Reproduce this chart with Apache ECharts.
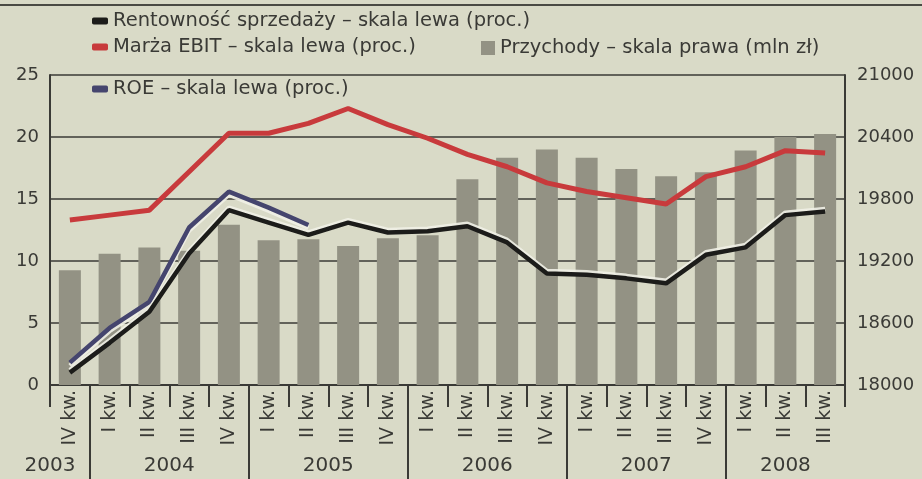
<!DOCTYPE html>
<html>
<head>
<meta charset="utf-8">
<script src="https://cdn.jsdelivr.net/npm/echarts@6/dist/echarts.min.js"></script>
<style>
html,body{margin:0;padding:0;background:#d9dac7;}
#c{width:922px;height:479px;}
</style>
</head>
<body>
<div id="c"></div>
<script>
const quarters = ['IV kw.','I kw.','II kw.','III kw.','IV kw.','I kw.','II kw.','III kw.','IV kw.','I kw.','II kw.','III kw.','IV kw.','I kw.','II kw.','III kw.','IV kw.','I kw.','II kw.','III kw.'];
const years = ['2003','2004','2005','2006','2007','2008'];
const yearLabelPos = [0, 6, 14, 22, 30, 37];
const yearBoundaryPos = [2, 10, 18, 26, 34];
const przychody = [19110, 19270, 19330, 19300, 19550, 19400, 19410, 19345, 19420, 19450, 19990, 20200, 20280, 20200, 20090, 20020, 20060, 20270, 20400, 20430];
const marzaEBIT = [13.3, 13.7, 14.1, 17.2, 20.3, 20.3, 21.1, 22.3, 21.0, 19.9, 18.6, 17.6, 16.3, 15.6, 15.1, 14.6, 16.8, 17.6, 18.9, 18.7];
const rentownosc = [1.0, 3.4, 5.9, 10.6, 14.1, 13.1, 12.1, 13.1, 12.3, 12.4, 12.8, 11.5, 9.0, 8.9, 8.6, 8.2, 10.5, 11.1, 13.7, 14.0];
const roe = [1.8, 4.6, 6.7, 12.7, 15.6, 14.3, 12.9, null, null, null, null, null, null, null, null, null, null, null, null, null];
const leftTicks = {min: 0, max: 25, interval: 5};
const rightTicks = {min: 18000, max: 21000, interval: 600};

const yearAxisData = [];
for (let i = 0; i <= 40; i++) {
  const k = yearLabelPos.indexOf(i);
  yearAxisData.push(k >= 0 ? years[k] : '');
}

const FONT = '"DejaVu Sans", sans-serif';
const TXT = '#3a3a36';
const LEG = {fontFamily: FONT, fontSize: 19.5, color: TXT};

const chart = echarts.init(document.getElementById('c'));
chart.setOption({
  backgroundColor: '#d9dac7',
  animation: false,
  textStyle: {fontFamily: FONT, color: TXT},
  graphic: [{
    type: 'line', shape: {x1: 0, y1: 5, x2: 922, y2: 5},
    style: {stroke: '#4a4a44', lineWidth: 2}
  }],
  grid: {left: 50, right: 77, top: 75, bottom: 94, containLabel: false},
  legend: [
    {left: 92, top: 11, padding: 0, itemWidth: 16, itemHeight: 7, icon: 'roundRect', itemGap: 4,
     data: ['Rentowność sprzedaży – skala lewa (proc.)'], textStyle: LEG},
    {left: 92, top: 37, padding: 0, itemWidth: 16, itemHeight: 7, icon: 'roundRect',
     data: ['Marża EBIT – skala lewa (proc.)'], textStyle: LEG},
    {left: 481, top: 38, padding: 0, itemWidth: 14, itemHeight: 14, icon: 'rect',
     data: ['Przychody – skala prawa (mln zł)'], textStyle: LEG},
    {left: 92, top: 79, padding: 0, itemWidth: 16, itemHeight: 7, icon: 'roundRect',
     data: ['ROE – skala lewa (proc.)'], textStyle: LEG}
  ],
  xAxis: [
    {
      type: 'category', data: quarters, position: 'bottom', boundaryGap: true,
      axisLine: {show: true, lineStyle: {color: '#3a3a36', width: 2}},
      axisTick: {show: true, interval: 0, length: 22, lineStyle: {color: '#3a3a36', width: 2}},
      axisLabel: {interval: 0, rotate: 90, margin: 5, fontSize: 19, color: TXT, fontFamily: FONT}
    },
    {
      type: 'category', data: yearAxisData, position: 'bottom', boundaryGap: false,
      axisLine: {show: false},
      axisTick: {show: true, length: 94, lineStyle: {color: '#3a3a36', width: 2},
        interval: function (idx) { return yearBoundaryPos.indexOf(idx) >= 0; }},
      axisLabel: {margin: 71, fontSize: 20, color: TXT, fontFamily: FONT,
        interval: function (idx) { return yearLabelPos.indexOf(idx) >= 0; }},
      splitLine: {show: false}
    }
  ],
  yAxis: [
    {
      type: 'value', position: 'left', min: leftTicks.min, max: leftTicks.max, interval: leftTicks.interval,
      axisLine: {show: true, lineStyle: {color: '#3a3a36', width: 2}},
      axisTick: {show: false},
      axisLabel: {fontSize: 18, color: TXT, margin: 11, fontFamily: FONT},
      splitLine: {show: true, lineStyle: {color: '#3a3a36', width: 1.5}}
    },
    {
      type: 'value', position: 'right', min: rightTicks.min, max: rightTicks.max, interval: rightTicks.interval,
      axisLine: {show: true, lineStyle: {color: '#3a3a36', width: 2}},
      axisTick: {show: false},
      axisLabel: {fontSize: 18, color: TXT, margin: 12, fontFamily: FONT, formatter: function (v) { return String(v); }},
      splitLine: {show: false}
    }
  ],
  series: [
    {
      name: 'Przychody – skala prawa (mln zł)', type: 'bar', xAxisIndex: 0, yAxisIndex: 1,
      data: przychody, barWidth: 22, itemStyle: {color: '#939284'}
    },
    {
      name: 'Marża EBIT – skala lewa (proc.)', type: 'line', xAxisIndex: 0, yAxisIndex: 0,
      data: marzaEBIT, symbol: 'none', itemStyle: {color: '#c83a3c'},
      lineStyle: {color: '#c83a3c', width: 5}
    },
    {
      name: 'ROE – skala lewa (proc.)', type: 'line', xAxisIndex: 0, yAxisIndex: 0,
      data: roe, symbol: 'none', itemStyle: {color: '#45456e'},
      lineStyle: {color: '#45456e', width: 4.5, shadowColor: 'rgba(240,240,230,0.9)', shadowBlur: 0, shadowOffsetY: 3}
    },
    {
      name: 'Rentowność sprzedaży – skala lewa (proc.)', type: 'line', xAxisIndex: 0, yAxisIndex: 0,
      data: rentownosc, symbol: 'none', itemStyle: {color: '#1c1c1a'},
      lineStyle: {color: '#1c1c1a', width: 4.5, shadowColor: 'rgba(240,240,230,0.9)', shadowBlur: 0, shadowOffsetY: -2.5}
    }
  ]
});
</script>
</body>
</html>
